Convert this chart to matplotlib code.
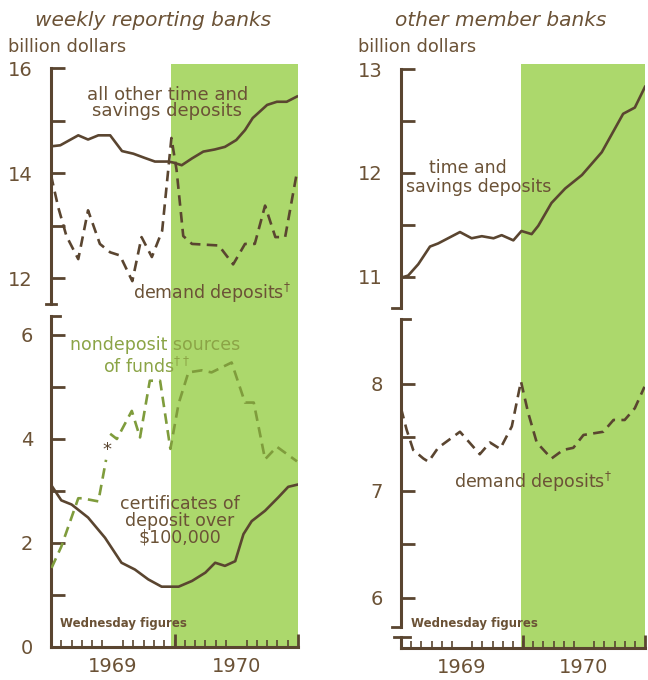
# deposits and nondeposit funds, 1969-1970

import numpy as np
import matplotlib
matplotlib.use('Agg')
import matplotlib.pyplot as plt

# months since Jan 1969 (0 = start of 1969, 24 = end of 1970)
# weekly reporting banks
wr_time_m = [0, 0.9, 2.65, 3.6, 4.6, 5.75, 6.9, 8.0, 9.1, 10.1, 11.4, 11.9, 12.7,
             13.7, 14.8, 15.9, 16.9, 18.0, 18.85, 19.6, 21.0, 21.95, 22.9, 23.9]
wr_time_v = [14.51, 14.53, 14.72, 14.64, 14.72, 14.72, 14.42, 14.37, 14.29, 14.22,
             14.22, 14.2, 14.15, 14.28, 14.41, 14.45, 14.5, 14.63, 14.82, 15.05,
             15.3, 15.36, 15.36, 15.46]

wr_demand_m = [0, 0.7, 1.5, 2.65, 3.6, 4.75, 5.75, 6.7, 7.9, 8.8, 9.8, 10.8, 11.7,
               12.2, 12.85, 13.7, 16.3, 17.7, 18.85, 19.8, 20.8, 21.8, 22.75, 23.9]
wr_demand_v = [13.96, 13.35, 12.8, 12.36, 13.29, 12.65, 12.49, 12.43, 11.94, 12.78,
               12.4, 12.9, 14.67, 14.06, 12.8, 12.65, 12.62, 12.26, 12.65, 12.65,
               13.38, 12.78, 12.78, 14.02]

nondep_m = [0.05, 1.0, 2.65, 3.0, 4.6, 5.35, np.nan, 5.75, 6.4, 7.85, 8.65, 9.6,
            10.6, 11.6, 12.4, 13.35, 14.65, 15.6, 17.55, 18.85, 19.7, 20.8, 21.95, 23.9]
nondep_v = [1.52, 1.93, 2.86, 2.86, 2.8, 3.6, np.nan, 4.1, 4.0, 4.54, 4.03, 5.12,
            5.12, 3.81, 4.68, 5.28, 5.32, 5.28, 5.47, 4.7, 4.7, 3.61, 3.85, 3.57]

cd_m = [0, 1.0, 2.0, 3.6, 5.25, 6.85, 8.15, 9.45, 10.75, 12.4, 13.7, 15.0, 15.95,
        16.9, 17.9, 18.7, 19.5, 20.8, 22.1, 23.05, 23.9]
cd_v = [3.12, 2.82, 2.74, 2.49, 2.1, 1.62, 1.49, 1.3, 1.16, 1.16, 1.27, 1.43, 1.62,
        1.56, 1.65, 2.17, 2.42, 2.62, 2.88, 3.08, 3.12]

# other member banks
om_time_m = [0, 0.7, 1.7, 2.85, 3.65, 5.8, 6.95, 7.95, 9.1, 9.9, 11.05, 11.85, 12.85,
             13.5, 14.8, 16.15, 17.8, 19.75, 21.85, 23.0, 24.0]
om_time_v = [10.99, 11.01, 11.12, 11.29, 11.32, 11.43, 11.37, 11.39, 11.37, 11.4,
             11.35, 11.44, 11.41, 11.49, 11.71, 11.85, 11.98, 12.2, 12.57, 12.63, 12.83]

om_demand_m = [0, 0.55, 1.2, 2.2, 2.7, 3.65, 5.8, 7.75, 8.75, 9.75, 10.9, 11.8, 12.5,
               13.35, 14.8, 15.95, 16.95, 17.95, 19.9, 20.9, 22.0, 23.0, 23.95]
om_demand_v = [7.77, 7.57, 7.38, 7.3, 7.27, 7.4, 7.55, 7.34, 7.45, 7.39, 7.6, 8.02,
               7.73, 7.45, 7.3, 7.38, 7.4, 7.52, 7.55, 7.66, 7.66, 7.77, 7.97]

star_m, star_v = 5.4, 3.79
years = ['1969', '1970']
year_mid = [6, 18]

brown = '#5a4530'
txt = '#6b5236'
green_fill = '#acd86c'
green_line = '#7f9c3c'
green_txt = '#8ba446'

W, H = 648, 680
fig = plt.figure(figsize=(W / 100, H / 100), dpi=100)
fig.patch.set_facecolor('white')


def px_axes(x0, x1, ytop, ybot):
    return fig.add_axes([x0 / W, 1 - ybot / H, (x1 - x0) / W, (ybot - ytop) / H])


def style(ax, ylim, bounds, yt, ylab, bottom):
    ax.set_xlim(0, 24)
    ax.set_ylim(*ylim)
    ax.set_facecolor('none')
    for s in ['top', 'right']:
        ax.spines[s].set_visible(False)
    ax.spines['left'].set_bounds(*bounds)
    ax.spines['left'].set_linewidth(2.2)
    ax.spines['left'].set_color(brown)
    ax.set_yticks(yt, labels=ylab)
    ax.tick_params(axis='y', direction='in', length=10, width=2, color=brown,
                   pad=13, labelsize=14, labelcolor=txt)
    if bottom:
        ax.spines['bottom'].set_linewidth(2.2)
        ax.spines['bottom'].set_color(brown)
        ax.set_xticks(year_mid, labels=years)
        ax.set_xticks(np.arange(1, 24), minor=True)
        ax.tick_params(axis='x', which='major', length=0, pad=7, labelsize=14,
                       labelcolor=txt)
        ax.tick_params(axis='x', which='minor', direction='in', length=5, width=1.2,
                       color=brown)
        ax.vlines([12, 24], 0, 0.04, transform=ax.get_xaxis_transform(),
                  color=brown, lw=2, clip_on=False)
    else:
        ax.spines['bottom'].set_visible(False)
        ax.set_xticks([])


dash = (0, (4, 2.4))

# ---- left panel: weekly reporting banks
shade_l = 11.7
ax1 = px_axes(51, 298, 64, 310)
style(ax1, (11.39, 16.08), (11.5, 16), [12, 13, 14, 15, 16],
      ['12', '', '14', '', '16'], False)
ax1.axvspan(shade_l, 24, color=green_fill, lw=0, zorder=0)
ax1.plot(wr_time_m, wr_time_v, color=brown, lw=1.9, zorder=3)
ax1.plot(wr_demand_m, wr_demand_v, color=brown, lw=1.9, ls=dash, zorder=3)
ax1.plot([-0.02, 0.02], [11.5, 11.5], transform=ax1.get_yaxis_transform(),
         color=brown, lw=2, clip_on=False)
ax1.text(11.3, 15.67, 'all other time and\nsavings deposits', ha='center', va='top',
         fontsize=13, color=txt, linespacing=0.9)
ax1.text(15.6, 11.72, 'demand deposits$^{\\dagger}$', ha='center', va='center',
         fontsize=12.5, color=txt)

ax2 = px_axes(51, 298, 310, 647)
style(ax2, (0, 6.48), (0, 6.36), range(7), ['0', '', '2', '', '4', '', '6'], True)
ax2.axvspan(shade_l, 24, color=green_fill, lw=0, zorder=0)
ax2.plot(nondep_m, nondep_v, color=green_line, lw=1.9, ls=dash, zorder=3)
ax2.plot(cd_m, cd_v, color=brown, lw=1.9, zorder=3)
ax2.plot([0, 0.035], [6.36, 6.36], transform=ax2.get_yaxis_transform(),
         color=brown, lw=2, clip_on=False)
ax2.text(star_m, star_v, '*', ha='center', va='center', fontsize=13, color=brown,
         zorder=4)
ax2.text(10.1, 5.8, 'nondeposit sources', ha='center', va='center', fontsize=12.5,
         color=green_txt)
ax2.text(9.3, 5.38, 'of funds$^{\\dagger\\dagger}$', ha='center', va='center',
         fontsize=12.5, color=green_txt)
ax2.text(12.5, 2.92, 'certificates of\ndeposit over\n$100,000', ha='center',
         va='top', fontsize=12.5, color=txt, linespacing=0.92)
ax2.text(0.9, 0.45, 'Wednesday figures', ha='left', va='center', fontsize=8.5,
         fontweight='bold', color=txt)

# ---- right panel: other member banks
shade_r = 11.85
ax3 = px_axes(401, 645, 64, 314)
style(ax3, (10.64, 13.05), (10.7, 13), [11, 11.5, 12, 12.5, 13],
      ['11', '', '12', '', '13'], False)
ax3.axvspan(shade_r, 24, color=green_fill, lw=0, zorder=0)
ax3.plot(om_time_m, om_time_v, color=brown, lw=1.9, zorder=3)
ax3.plot([-0.035, 0.0], [10.7, 10.7], transform=ax3.get_yaxis_transform(),
         color=brown, lw=2, clip_on=False)
ax3.text(6.6, 12.05, 'time and', ha='center', va='center', fontsize=12.5, color=txt)
ax3.text(7.6, 11.86, 'savings deposits', ha='center', va='center', fontsize=12.5,
         color=txt)

ax4 = px_axes(401, 645, 314, 648)
style(ax4, (5.53, 8.65), (5.73, 8.6), [6, 6.5, 7, 7.5, 8],
      ['6', '', '7', '', '8'], True)
ax4.axvspan(shade_r, 24, color=green_fill, lw=0, zorder=0)
ax4.plot(om_demand_m, om_demand_v, color=brown, lw=1.9, ls=dash, zorder=3)
yt4 = ax4.get_yaxis_transform()
ax4.plot([0, 0.035], [8.6, 8.6], transform=yt4, color=brown, lw=2, clip_on=False)
ax4.plot([-0.035, 0.0], [5.73, 5.73], transform=yt4, color=brown, lw=2, clip_on=False)
ax4.plot([0, 0], [5.53, 5.63], transform=ax4.transData, color=brown, lw=2.2,
         clip_on=False)
ax4.plot([-0.03, 0.035], [5.63, 5.63], transform=yt4, color=brown, lw=2,
         clip_on=False)
ax4.text(13.0, 7.08, 'demand deposits$^{\\dagger}$', ha='center', va='center',
         fontsize=12.5, color=txt)
ax4.text(1.0, 5.76, 'Wednesday figures', ha='left', va='center', fontsize=8.5,
         fontweight='bold', color=txt)

# titles and units
fig.text(153 / W, 1 - 20 / H, 'weekly reporting banks', ha='center', va='center',
         fontsize=14.5, style='italic', color=txt)
fig.text(501 / W, 1 - 20 / H, 'other member banks', ha='center', va='center',
         fontsize=14.5, style='italic', color=txt)
fig.text(8 / W, 1 - 47 / H, 'billion dollars', ha='left', va='center',
         fontsize=12.8, color=txt)
fig.text(358 / W, 1 - 47 / H, 'billion dollars', ha='left', va='center',
         fontsize=12.8, color=txt)

fig.savefig('out.png', dpi=100)
